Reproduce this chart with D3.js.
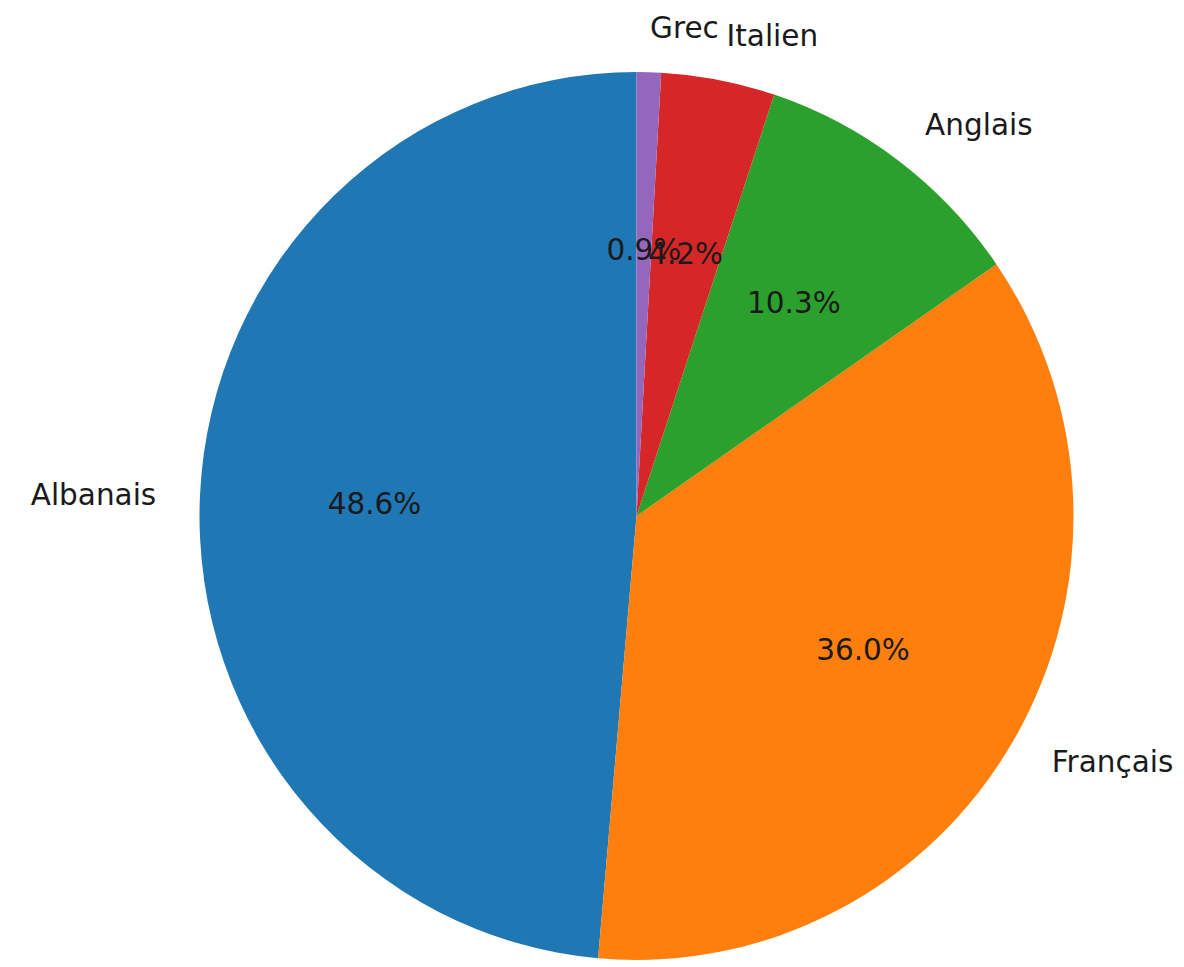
<!DOCTYPE html>
<html>
<head>
<meta charset="utf-8">
<script src="https://cdn.jsdelivr.net/npm/d3@7"></script>
<style>
  html, body { margin: 0; padding: 0; background: #fff; }
  svg { display: block; }
  text { font-family: "DejaVu Sans", sans-serif; fill: #1a1a1a; }
</style>
</head>
<body>
<svg id="chart" width="1184" height="967"></svg>
<script>
const categories = ["Albanais", "Français", "Anglais", "Italien", "Grec"];
const values = [48.6, 36.0, 10.3, 4.2, 0.9];
const colors = ["#1f77b4", "#ff7f0e", "#2ca02c", "#d62728", "#9467bd"];

const W = 1184, H = 967;
const cx = 636.5, cy = 516;
const rx = 437, ry = 444;
const sy = ry / rx;
const fontSize = 29.5;

const svg = d3.select("#chart");
const data = categories.map((c, i) => ({ name: c, value: values[i], color: colors[i] }));

// counterclockwise from 12 o'clock, like matplotlib startangle=90
const pie = d3.pie().value(d => d.value).sort(null).startAngle(0).endAngle(-2 * Math.PI);
const arcs = pie(data);
const arc = d3.arc().innerRadius(0).outerRadius(rx);

const g = svg.append("g").attr("transform", `translate(${cx},${cy}) scale(1,${sy})`);
g.selectAll("path").data(arcs).join("path")
  .attr("d", arc)
  .attr("fill", d => d.data.color);

function pos(d, f) {
  const a = (d.startAngle + d.endAngle) / 2;
  return [cx + f * rx * Math.sin(a), cy - f * ry * Math.cos(a)];
}

const labels = svg.append("g");
arcs.forEach(d => {
  const [x, y] = pos(d, 1.1);
  labels.append("text")
    .attr("x", x).attr("y", y)
    .attr("text-anchor", x >= cx ? "start" : "end")
    .attr("dominant-baseline", "central")
    .attr("font-size", fontSize)
    .text(d.data.name);
  const [px, py] = pos(d, 0.6);
  labels.append("text")
    .attr("x", px).attr("y", py)
    .attr("text-anchor", "middle")
    .attr("dominant-baseline", "central")
    .attr("font-size", fontSize)
    .text(d3.format(".1f")(d.data.value) + "%");
});
</script>
</body>
</html>
